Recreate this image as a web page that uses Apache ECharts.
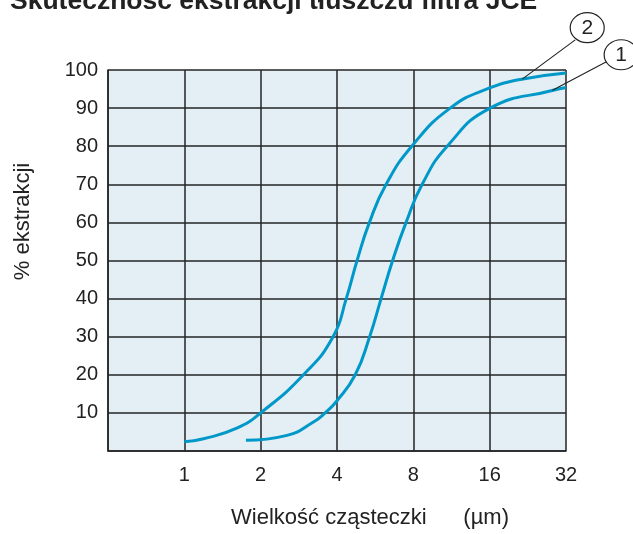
<!DOCTYPE html>
<html><head><meta charset="utf-8">
<script src="https://cdn.jsdelivr.net/npm/echarts@6/dist/echarts.min.js"></script>
<style>html,body{margin:0;padding:0;background:#fff}#c{width:633px;height:534px}</style>
</head><body><div id="c"></div>
<script>
const titleText = 'Skuteczność ekstrakcji tłuszczu filtra JCE';
const xAxisName = 'Wielkość cząsteczki      (µm)';
const yAxisName = '% ekstrakcji';
const xTickLabels = [1, 2, 4, 8, 16, 32];
const yTickValues = [10, 20, 30, 40, 50, 60, 70, 80, 90, 100];

// Curve 2 (left, higher)
const curve2Size = [1.0, 1.19, 1.61, 2.0, 2.95, 3.86, 4.35, 4.80, 5.37, 6.25, 7.89, 11.18, 16.0, 21.1, 32.0];
const curve2Pct  = [2.4, 3.2, 6.0, 10.0, 20.0, 30.0, 40.0, 50.0, 60.0, 70.0, 80.0, 90.0, 95.3, 97.5, 99.2];
// Curve 1 (right, lower)
const curve1Size = [1.75, 2.54, 3.23, 3.59, 4.0, 4.72, 5.38, 5.97, 6.63, 7.49, 8.67, 10.88, 16.07, 28.5, 32.0];
const curve1Pct  = [2.8, 4.1, 7.6, 10.0, 13.2, 20.0, 30.0, 40.0, 50.0, 60.0, 70.0, 80.0, 90.0, 94.7, 95.4];

// Callouts (in data units: particle size, %)
const calloutLabels = ['2', '1'];
const calloutCenter = [[38.8, 111.1], [52.8, 104.0]];
const calloutFrom   = [[21.5, 97.6], [28.3, 94.7]];
const calloutTo     = [[34.8, 107.9], [46.0, 102.1]];

const FONT = '"Liberation Sans", Arial, Helvetica, sans-serif';
const LINE = '#0098c9';
const GRID = '#252525';

const chart = echarts.init(document.getElementById('c'), null, {renderer: 'canvas'});
chart.setOption({
  animation: false,
  backgroundColor: '#ffffff',
  textStyle: {fontFamily: FONT},
  grid: {left: 108, right: 67, top: 70, bottom: 82, show: true, backgroundColor: '#e4eff5', borderWidth: 0},
  xAxis: {
    type: 'log', logBase: 2, min: 0.5, max: 32,
    name: xAxisName, nameLocation: 'middle', nameGap: 56,
    nameTextStyle: {fontSize: 22, color: '#222', fontFamily: FONT, padding: [0, 0, 0, 66]},
    axisLine: {show: true, lineStyle: {color: GRID, width: 1.5}},
    axisTick: {show: false},
    splitLine: {show: true, lineStyle: {color: GRID, width: 1.5}},
    axisLabel: {
      fontSize: 20, color: '#222', margin: 14, fontFamily: FONT,
      formatter: v => { const r = Math.round(v); return (Math.abs(v - r) < 1e-6 && xTickLabels.includes(r)) ? String(r) : ''; }
    }
  },
  yAxis: {
    type: 'value', min: 0, max: 100, interval: 10,
    name: yAxisName, nameLocation: 'middle', nameGap: 74, nameRotate: 90,
    nameTextStyle: {fontSize: 22, color: '#222', fontFamily: FONT, padding: [0, 0, 0, 78]},
    axisLine: {show: true, lineStyle: {color: GRID, width: 1.5}},
    axisTick: {show: false},
    splitLine: {show: true, lineStyle: {color: GRID, width: 1.5}},
    axisLabel: {
      fontSize: 20, color: '#222', margin: 10, fontFamily: FONT,
      formatter: v => yTickValues.includes(v) ? String(v) : ''
    }
  },
  series: [
    {type: 'line', name: '2', data: curve2Size.map((s, i) => [s, curve2Pct[i]]), smooth: 0.5,
     showSymbol: false, symbol: 'none', lineStyle: {color: LINE, width: 3}, clip: false, z: 5},
    {type: 'line', name: '1', data: curve1Size.map((s, i) => [s, curve1Pct[i]]), smooth: 0.5,
     showSymbol: false, symbol: 'none', lineStyle: {color: LINE, width: 3}, clip: false, z: 5}
  ]
});

const toPx = p => chart.convertToPixel({xAxisIndex: 0, yAxisIndex: 0}, p);
const graphics = [{
  type: 'text', left: 10, top: -12, z: 20,
  style: {text: titleText, fontSize: 26.5, fontWeight: 'bold', fontFamily: FONT, fill: '#222'}
}];
calloutLabels.forEach((lab, i) => {
  const c = toPx(calloutCenter[i]);
  const a = toPx(calloutFrom[i]);
  const b = toPx(calloutTo[i]);
  graphics.push({type: 'line', z: 20, shape: {x1: a[0], y1: a[1], x2: b[0], y2: b[1]}, style: {stroke: '#222', lineWidth: 1.1}});
  graphics.push({type: 'ellipse', z: 20, shape: {cx: c[0], cy: c[1], rx: 17, ry: 15}, style: {fill: '#fff', stroke: '#222', lineWidth: 1.2}});
  graphics.push({type: 'text', z: 21, x: c[0], y: c[1],
    style: {text: lab, fontSize: 21, fontFamily: FONT, fill: '#222', align: 'center', verticalAlign: 'middle'}});
});
chart.setOption({graphic: graphics});
</script>
</body></html>
